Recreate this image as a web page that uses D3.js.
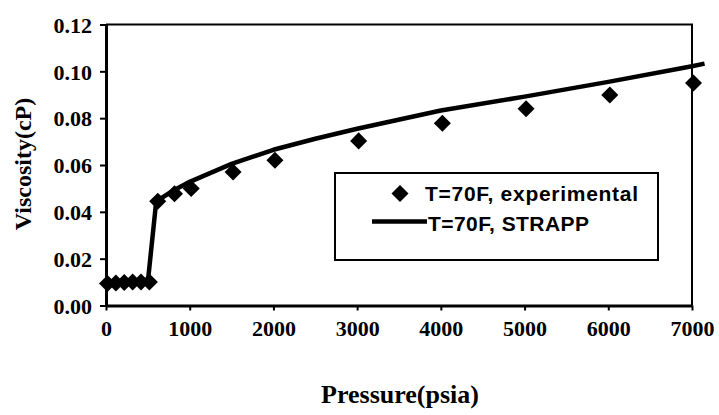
<!DOCTYPE html>
<html>
<head>
<meta charset="utf-8">
<script src="https://cdn.jsdelivr.net/npm/d3@7"></script>
<style>
    body { margin: 0; background: #fff; }
    .tick text { font-family: "Liberation Serif", "Times New Roman", serif; font-weight: bold; font-size: 22px; fill: #000; }
    .axis-label { font-family: "Liberation Serif", "Times New Roman", serif; font-weight: bold; fill: #000; }
    .legend text { font-family: "Liberation Sans", Arial, sans-serif; font-weight: bold; font-size: 21px; fill: #000; }
</style>
</head>
<body>
<svg id="chart" width="719" height="415"></svg>
<script>
// Experimental points
const expPressure = [0, 100, 200, 300, 400, 500, 600, 800, 1000, 1500, 2000, 3000, 4000, 5000, 6000, 7000];
const expViscosity = [0.0094, 0.0096, 0.0098, 0.0100, 0.0100, 0.0100, 0.0445, 0.0477, 0.0500, 0.0570, 0.0620, 0.0703, 0.0778, 0.0840, 0.0899, 0.0950];

// STRAPP model curve
const strappPressure = [0, 100, 200, 300, 400, 500, 600, 800, 1000, 1500, 2000, 2500, 3000, 4000, 5000, 6000, 7000, 7150];
const strappViscosity = [0.0094, 0.0096, 0.0098, 0.0100, 0.0100, 0.0101, 0.0445, 0.0490, 0.0528, 0.0605, 0.0665, 0.0712, 0.0755, 0.0833, 0.0892, 0.0955, 0.1022, 0.1033];

// Tick values
const xTicks = [0, 1000, 2000, 3000, 4000, 5000, 6000, 7000];
const yTicks = [0, 0.02, 0.04, 0.06, 0.08, 0.10, 0.12];

const legendLabels = ["T=70F, experimental", "T=70F, STRAPP"];

const width = 719, height = 415;
const margin = { left: 106, right: 27, top: 24.5, bottom: 109.5 };
const drawWidth = width - margin.left - margin.right;
const drawHeight = height - margin.top - margin.bottom;

const svg = d3.select("#chart");
const g = svg.append("g").attr("transform", `translate(${margin.left},${margin.top})`);

const xScale = d3.scaleLinear().domain([0, 7000]).range([0, drawWidth]);
const yScale = d3.scaleLinear().domain([0, 0.12]).range([drawHeight, 0]);

// Frame (top and right)
g.append("path")
    .attr("d", `M0,0H${drawWidth}V${drawHeight}`)
    .attr("fill", "none")
    .attr("stroke", "#000")
    .attr("stroke-width", 2);

// Axes
const xAxis = g.append("g")
    .attr("transform", `translate(0,${drawHeight})`)
    .call(d3.axisBottom(xScale).tickValues(xTicks).tickFormat(d3.format("d")).tickSizeOuter(0).tickSizeInner(5).tickPadding(10));
const yAxis = g.append("g")
    .call(d3.axisLeft(yScale).tickValues(yTicks).tickFormat(d3.format(".2f")).tickSizeOuter(0).tickSizeInner(6).tickPadding(8));

[xAxis, yAxis].forEach(a => {
    a.select(".domain").attr("stroke", "#000").attr("stroke-width", 3);
    a.selectAll(".tick line").attr("stroke", "#000").attr("stroke-width", 2);
    a.attr("font-family", null).attr("font-size", null);
});
yAxis.selectAll(".tick text").attr("dy", "0.35em");

// Legend box
const legend = g.append("g").attr("class", "legend")
    .attr("transform", `translate(${335 - margin.left},${173 - margin.top})`);
legend.append("rect")
    .attr("width", 323).attr("height", 87)
    .attr("fill", "#fff").attr("stroke", "#000").attr("stroke-width", 2);

// STRAPP line
const line = d3.line()
    .x((d, i) => xScale(strappPressure[i]))
    .y((d) => yScale(d));
g.append("path")
    .datum(strappViscosity)
    .attr("d", line)
    .attr("fill", "none")
    .attr("stroke", "#000")
    .attr("stroke-width", 4.5)
    .attr("stroke-linejoin", "round");

// Experimental diamonds
const diamond = d3.symbol().type(d3.symbolSquare).size(145);
g.selectAll(".pt")
    .data(expViscosity)
    .enter().append("path")
    .attr("class", "pt")
    .attr("d", diamond)
    .attr("transform", (d, i) => `translate(${xScale(expPressure[i]) + 1.5},${yScale(d)}) rotate(45)`)
    .attr("fill", "#000");

// Legend entries
legend.append("path")
    .attr("d", diamond)
    .attr("transform", "translate(65,20.5) rotate(45)")
    .attr("fill", "#000");
legend.append("text").attr("x", 90).attr("y", 28).attr("textLength", 213).text(legendLabels[0]);
legend.append("line")
    .attr("x1", 37).attr("x2", 92).attr("y1", 48.5).attr("y2", 48.5)
    .attr("stroke", "#000").attr("stroke-width", 4.5);
legend.append("text").attr("x", 93).attr("y", 58).attr("textLength", 161).text(legendLabels[1]);

// Axis labels
svg.append("text").attr("class", "axis-label")
    .attr("x", 400).attr("y", 403)
    .attr("text-anchor", "middle")
    .attr("font-size", 26)
    .text("Pressure(psia)");
svg.append("text").attr("class", "axis-label")
    .attr("transform", "translate(31,164) rotate(-90)")
    .attr("text-anchor", "middle")
    .attr("font-size", 24)
    .text("Viscosity(cP)");
</script>
</body>
</html>
